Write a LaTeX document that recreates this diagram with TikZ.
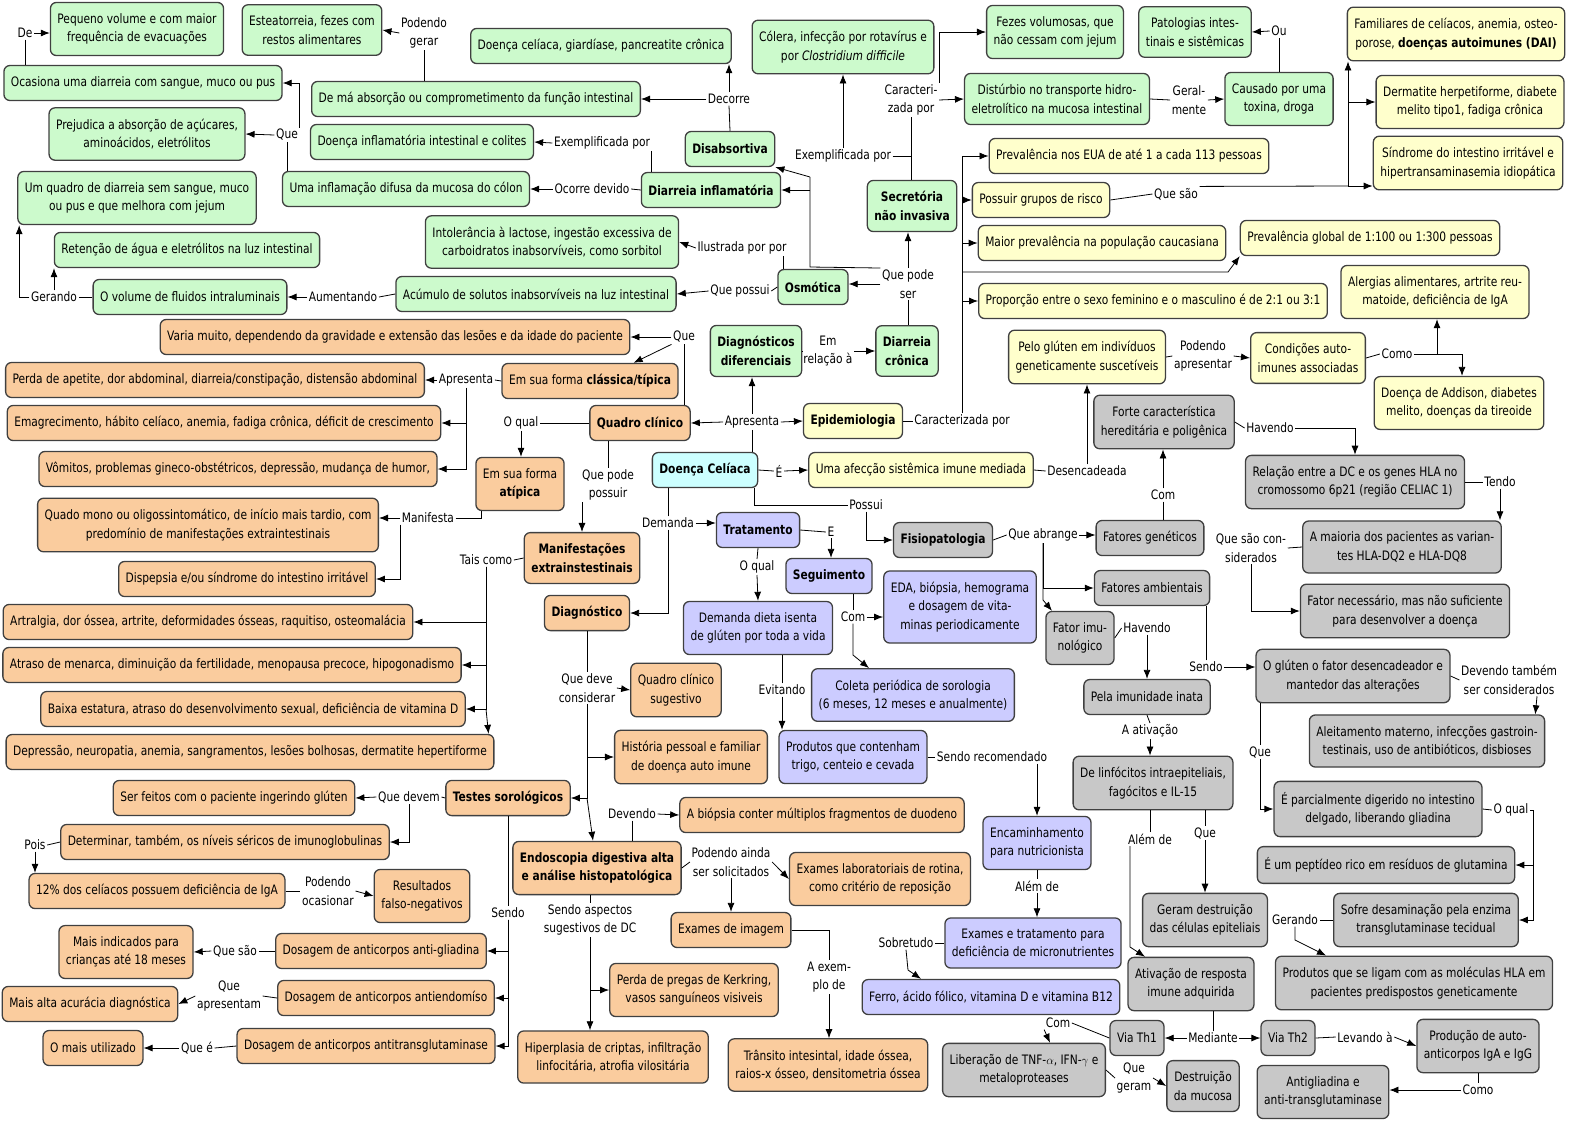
\documentclass[tikz,border=0pt]{standalone}
\usepackage{fontspec}
\setmainfont{DejaVu Sans}[FakeStretch=0.82]
\usepackage{tikz}
\usetikzlibrary{arrows.meta}
\definecolor{verde}{RGB}{204,250,204}
\definecolor{laranja}{RGB}{250,204,158}
\definecolor{amarelo}{RGB}{255,255,204}
\definecolor{cinza}{RGB}{200,200,200}
\definecolor{lilas}{RGB}{204,204,255}
\definecolor{ciano}{RGB}{204,255,255}

\begin{document}
\begin{tikzpicture}[x=1pt,y=-1pt,>={Latex[length=9pt,width=7pt]},
	every node/.style={font=\fontsize{13}{18.5}\selectfont},
	box/.style={draw=black!75,line width=1.3pt,rounded corners=6pt,align=center,inner xsep=7pt,inner ysep=11pt,minimum height=35pt},
	gbox/.style={box,fill=verde},
	obox/.style={box,fill=laranja},
	ybox/.style={box,fill=amarelo},
	rbox/.style={box,fill=cinza},
	pbox/.style={box,fill=lilas},
	cbox/.style={box,fill=ciano},
	lbl/.style={align=center,inner sep=1.5pt}]
				\useasboundingbox (0,0) rectangle (1570,1122);
				\node[gbox] (peq) at (137,29) {Pequeno volume e com maior\\frequência de evacuações};
				\node[gbox] (este) at (312,30) {Esteatorreia, fezes com\\restos alimentares};
				\node[gbox] (ocas) at (143,83) {Ocasiona uma diarreia com sangue, muco ou pus};
				\node[gbox] (dcgp) at (601,46) {Doença celíaca, giardíase, pancreatite crônica};
				\node[gbox] (maabs) at (476,99) {De má absorção ou comprometimento da função intestinal};
				\node[gbox] (prej) at (147,134) {Prejudica a absorção de açúcares,\\aminoácidos, eletrólitos};
				\node[gbox] (dii) at (422,142) {Doença inflamatória intestinal e colites};
				\node[gbox] (umq) at (137,198) {Um quadro de diarreia sem sangue, muco\\ou pus e que melhora com jejum};
				\node[gbox] (infl) at (406,189) {Uma inflamação difusa da mucosa do cólon};
				\node[gbox] (disab) at (730,149) {\textbf{Disabsortiva}};
				\node[gbox] (dinf) at (711,190) {\textbf{Diarreia inflamatória}};
				\node[gbox] (ret) at (187,250) {Retenção de água e eletrólitos na luz intestinal};
				\node[gbox] (intol) at (552,242) {Intolerância à lactose, ingestão excessiva de\\carboidratos inabsorvíveis, como sorbitol};
				\node[gbox] (volf) at (190,297) {O volume de fluidos intraluminais};
				\node[gbox] (acum) at (536,294) {Acúmulo de solutos inabsorvíveis na luz intestinal};
				\node[gbox] (osm) at (813,287) {\textbf{Osmótica}};
				\node[gbox] (cole) at (843,47) {Cólera, infecção por rotavírus e\\por \textit{Clostridium difficile}};
				\node[gbox] (secr) at (912,206) {\textbf{Secretória}\\\textbf{não invasiva}};
				\node[gbox] (dcron) at (907,351) {\textbf{Diarreia}\\\textbf{crônica}};
				\node[gbox] (ddif) at (756,351) {\textbf{Diagnósticos}\\\textbf{diferenciais}};
				\node[gbox] (fezes) at (1055,32) {Fezes volumosas, que\\não cessam com jejum};
				\node[gbox] (pato) at (1195,32) {Patologias intes-\\tinais e sistêmicas};
				\node[gbox] (distu) at (1057,99) {Distúrbio no transporte hidro-\\eletrolítico na mucosa intestinal};
				\node[gbox] (caus) at (1279,99) {Causado por uma\\toxina, droga};

				\node[ybox] (fam) at (1456,34) {Familiares de celíacos, anemia, osteo-\\porose, \textbf{doenças autoimunes (DAI)}};
				\node[ybox] (derm) at (1470,102) {Dermatite herpetiforme, diabete\\melito tipo1, fadiga crônica};
				\node[ybox] (sind) at (1468,163) {Síndrome do intestino irritável e\\hipertransaminasemia idiopática};
				\node[ybox] (prevEUA) at (1129,156) {Prevalência nos EUA de até 1 a cada 113 pessoas};
				\node[ybox] (grupos) at (1041,200) {Possuir grupos de risco};
				\node[ybox] (cauc) at (1102,243) {Maior prevalência na população caucasiana};
				\node[ybox] (prevglob) at (1370,238) {Prevalência global de 1:100 ou 1:300 pessoas};
				\node[ybox] (prop) at (1153,301) {Proporção entre o sexo feminino e o masculino é de 2:1 ou 3:1};
				\node[ybox] (alerg) at (1435,292) {Alergias alimentares, artrite reu-\\matoide, deficiência de IgA};
				\node[ybox] (pelo) at (1087,357) {Pelo glúten em indivíduos\\geneticamente suscetíveis};
				\node[ybox] (condi) at (1308,358) {Condições auto-\\imunes associadas};
				\node[ybox] (addis) at (1459,403) {Doença de Addison, diabetes\\melito, doenças da tireoide};
				\node[ybox] (epid) at (853,421) {\textbf{Epidemiologia}};
				\node[ybox] (afec) at (921,470) {Uma afecção sistêmica imune mediada};
				\node[cbox] (dcel) at (705,470) {\textbf{Doença Celíaca}};

				\node[obox] (varia) at (395,337) {Varia muito, dependendo da gravidade e extensão das lesões e da idade do paciente};
				\node[obox] (perda) at (215,380) {Perda de apetite, dor abdominal, diarreia/constipação, distensão abdominal};
				\node[obox] (classica) at (590,381) {Em sua forma \textbf{clássica/típica}};
				\node[obox] (emag) at (224,423) {Emagrecimento, hábito celíaco, anemia, fadiga crônica, déficit de crescimento};
				\node[obox] (qclin) at (640,423) {\textbf{Quadro clínico}};
				\node[obox] (vomi) at (238,469) {Vômitos, problemas gineco-obstétricos, depressão, mudança de humor,};
				\node[obox] (atip) at (520,484) {Em sua forma\\\textbf{atípica}};
				\node[obox] (mono) at (208,525) {Quado mono ou oligossintomático, de início mais tardio, com\\predomínio de manifestações extraintestinais};
				\node[obox] (disp) at (247,579) {Dispepsia e/ou síndrome do intestino irritável};
				\node[obox] (manif) at (582,558) {\textbf{Manifestações}\\\textbf{extrainstestinais}};
				\node[obox] (artr) at (208,622) {Artralgia, dor óssea, artrite, deformidades ósseas, raquitiso, osteomalácia};
				\node[obox] (diag) at (587,613) {\textbf{Diagnóstico}};
				\node[obox] (atras) at (232,665) {Atraso de menarca, diminuição da fertilidade, menopausa precoce, hipogonadismo};
				\node[obox] (qsug) at (676,690) {Quadro clínico\\sugestivo};
				\node[obox] (baixa) at (253,709) {Baixa estatura, atraso do desenvolvimento sexual, deficiência de vitamina D};
				\node[obox] (depr) at (250,752) {Depressão, neuropatia, anemia, sangramentos, lesões bolhosas, dermatite hepertiforme};
				\node[obox] (hist) at (691,757) {História pessoal e familiar\\de doença auto imune};
				\node[obox] (sorol) at (508,798) {\textbf{Testes sorológicos}};
				\node[obox] (serf) at (234,798) {Ser feitos com o paciente ingerindo glúten};
				\node[obox] (biop) at (822,815) {A biópsia conter múltiplos fragmentos de duodeno};
				\node[obox] (deter) at (225,842) {Determinar, também, os níveis séricos de imunoglobulinas};
				\node[obox] (endo) at (597,868) {\textbf{Endoscopia digestiva alta}\\\textbf{e análise histopatológica}};
				\node[obox] (exlab) at (880,879) {Exames laboratoriais de rotina,\\como critério de reposição};
				\node[obox] (igA) at (157,891) {12\% dos celíacos possuem deficiência de IgA};
				\node[obox] (falso) at (422,896) {Resultados\\falso-negativos};
				\node[obox] (eimg) at (731,930) {Exames de imagem};
				\node[obox] (maisind) at (126,952) {Mais indicados para\\crianças até 18 meses};
				\node[obox] (antigl) at (381,951) {Dosagem de anticorpos anti-gliadina};
				\node[obox] (kerk) at (694,990) {Perda de pregas de Kerkring,\\vasos sanguíneos visiveis};
				\node[obox] (maisalta) at (90,1004) {Mais alta acurácia diagnóstica};
				\node[obox] (antiend) at (386,998) {Dosagem de anticorpos antiendomíso};
				\node[obox] (maisut) at (93,1048) {O mais utilizado};
				\node[obox] (antitg) at (366,1046) {Dosagem de anticorpos antitransglutaminase};
				\node[obox] (hiper) at (613,1057) {Hiperplasia de criptas, infiltração\\linfocitária, atrofia vilositária};
				\node[obox] (trans) at (828,1065) {Trânsito intesintal, idade óssea,\\raios-x ósseo, densitometria óssea};

				\node[pbox] (trat) at (758,530) {\textbf{Tratamento}};
				\node[pbox] (segu) at (829,576) {\textbf{Seguimento}};
				\node[pbox] (dieta) at (758,628) {Demanda dieta isenta\\de glúten por toda a vida};
				\node[pbox] (eda) at (960,607) {EDA, biópsia, hemograma\\e dosagem de vita-\\minas periodicamente};
				\node[pbox] (coleta) at (913,695) {Coleta periódica de sorologia\\(6 meses, 12 meses e anualmente)};
				\node[pbox] (prods) at (853,757) {Produtos que contenham\\trigo, centeio e cevada};
				\node[pbox] (encam) at (1037,843) {Encaminhamento\\para nutricionista};
				\node[pbox] (exmic) at (1033,943) {Exames e tratamento para\\deficiência de micronutrientes};
				\node[pbox] (ferro) at (991,997) {Ferro, ácido fólico, vitamina D e vitamina B12};

				\node[rbox] (fisio) at (943,540) {\textbf{Fisiopatologia}};
				\node[rbox] (forte) at (1164,422) {Forte característica\\hereditária e poligênica};
				\node[rbox] (relac) at (1355,482) {Relação entre a DC e os genes HLA no\\cromossomo 6p21 (região CELIAC 1)};
				\node[rbox] (fgen) at (1150,538) {Fatores genéticos};
				\node[rbox] (maior) at (1402,547) {A maioria dos pacientes as varian-\\tes HLA-DQ2 e HLA-DQ8};
				\node[rbox] (famb) at (1152,588) {Fatores ambientais};
				\node[rbox] (fnec) at (1405,611) {Fator necessário, mas não suficiente\\para desenvolver a doença};
				\node[rbox] (fimu) at (1080,638) {Fator imu-\\nológico};
				\node[rbox] (inata) at (1147,697) {Pela imunidade inata};
				\node[rbox] (glut) at (1353,676) {O glúten o fator desencadeador e\\mantedor das alterações};
				\node[rbox] (aleit) at (1427,741) {Aleitamento materno, infecções gastroin-\\testinais, uso de antibióticos, disbioses};
				\node[rbox] (linf) at (1153,783) {De linfócitos intraepiteliais,\\fagócitos e IL-15};
				\node[rbox] (parc) at (1378,809) {É parcialmente digerido no intestino\\delgado, liberando gliadina};
				\node[rbox] (pept) at (1386,865) {É um peptídeo rico em resíduos de glutamina};
				\node[rbox] (gerd) at (1205,920) {Geram destruição\\das células epiteliais};
				\node[rbox] (sofre) at (1426,920) {Sofre desaminação pela enzima\\transglutaminase tecidual};
				\node[rbox] (ativ) at (1191,984) {Ativação de resposta\\imune adquirida};
				\node[rbox] (prodhla) at (1414,983) {Produtos que se ligam com as moléculas HLA em\\pacientes predispostos geneticamente};
				\node[rbox] (th1) at (1137,1038) {Via Th1};
				\node[rbox] (th2) at (1288,1038) {Via Th2};
				\node[rbox] (auto) at (1478,1046) {Produção de auto-\\anticorpos IgA e IgG};
				\node[rbox] (liber) at (1024,1070) {Liberação de TNF-$\alpha$, IFN-$\gamma$ e\\metaloproteases};
				\node[rbox] (destr) at (1203,1086) {Destruição\\da mucosa};
				\node[rbox] (antig) at (1323,1092) {Antigliadina e\\anti-transglutaminase};

				\node[lbl] (lCar) at (911,100) {Caracteri-\\zada por};
				\node[lbl] (lExe) at (843,156) {Exemplificada por};
				\node[lbl] (lQps) at (908,284) {Que pode\\ser};
				\node[lbl] (lQpo) at (740,291) {Que possui};
				\node[lbl] (lIlu) at (742,248) {Ilustrada por por};
				\node[lbl] (lAum) at (343,297) {Aumentando};
				\node[lbl] (lGer) at (54,297) {Gerando};
				\node[lbl] (lOco) at (592,189) {Ocorre devido};
				\node[lbl] (lExi) at (602,143) {Exemplificada por};
				\node[lbl] (lQue1) at (287,135) {Que};
				\node[lbl] (lDe) at (25,33) {De};
				\node[lbl] (lDec) at (729,99) {Decorre};
				\node[lbl] (lPge) at (424,33) {Podendo\\gerar};
				\node[lbl] (lGm) at (1189,100) {Geral-\\mente};
				\node[lbl] (lOu) at (1279,31) {Ou};
				\node[lbl] (lE) at (779,471) {É};
				\node[lbl] (lDes) at (1087,471) {Desencadeada};
				\node[lbl] (lPap) at (1203,356) {Podendo\\apresentar};
				\node[lbl] (lComo1) at (1397,354) {Como};
				\node[lbl] (lApr) at (752,422) {Apresenta};
				\node[lbl] (lRel) at (828,351) {Em\\relação à};
				\node[lbl] (lCpor) at (962,421) {Caracterizada por};
				\node[lbl] (lQsao) at (1176,194) {Que são};
				\node[lbl] (lOq1) at (521,423) {O qual};
				\node[lbl] (lQpp) at (608,485) {Que pode\\possuir};
				\node[lbl] (lQue2) at (684,337) {Que};
				\node[lbl] (lApr2) at (466,380) {Apresenta};
				\node[lbl] (lMan) at (428,518) {Manifesta};
				\node[lbl] (lTais) at (486,560) {Tais como};
				\node[lbl] (lDem) at (668,523) {Demanda};
				\node[lbl] (lPos) at (866,505) {Possui};
				\node[lbl] (lOq2) at (757,567) {O qual};
				\node[lbl] (lEE) at (831,532) {E};
				\node[lbl] (lCom1) at (853,617) {Com};
				\node[lbl] (lEvi) at (782,690) {Evitando};
				\node[lbl] (lSrec) at (992,757) {Sendo recomendado};
				\node[lbl] (lAlem1) at (1037,886) {Além de};
				\node[lbl] (lSob) at (906,943) {Sobretudo};
				\node[lbl] (lQab) at (1043,535) {Que abrange};
				\node[lbl] (lCom2) at (1163,495) {Com};
				\node[lbl] (lHav1) at (1270,428) {Havendo};
				\node[lbl] (lTen) at (1500,482) {Tendo};
				\node[lbl] (lQsc) at (1251,548) {Que são con-\\siderados};
				\node[lbl] (lSen1) at (1206,667) {Sendo};
				\node[lbl] (lDev) at (1509,680) {Devendo também\\ser considerados};
				\node[lbl] (lQue3) at (1260,752) {Que};
				\node[lbl] (lOq3) at (1511,810) {O qual};
				\node[lbl] (lGer2) at (1295,920) {Gerando};
				\node[lbl] (lHav2) at (1147,628) {Havendo};
				\node[lbl] (lAtiv) at (1150,731) {A ativação};
				\node[lbl] (lAlem2) at (1150,839) {Além de};
				\node[lbl] (lQue4) at (1205,833) {Que};
				\node[lbl] (lMed) at (1213,1038) {Mediante};
				\node[lbl] (lLev) at (1365,1037) {Levando à};
				\node[lbl] (lComo2) at (1478,1090) {Como};
				\node[lbl] (lCom3) at (1058,1023) {Com};
				\node[lbl] (lQg) at (1134,1078) {Que\\geram};
				\node[lbl] (lQdc) at (587,688) {Que deve\\considerar};
				\node[lbl] (lQdv) at (409,797) {Que devem};
				\node[lbl] (lPois) at (35,845) {Pois};
				\node[lbl] (lPoc) at (328,891) {Podendo\\ocasionar};
				\node[lbl] (lSen2) at (508,913) {Sendo};
				\node[lbl] (lQsa) at (235,951) {Que são};
				\node[lbl] (lQap) at (229,996) {Que\\apresentam};
				\node[lbl] (lQe) at (197,1048) {Que é};
				\node[lbl] (lDevd) at (632,814) {Devendo};
				\node[lbl] (lPai) at (731,862) {Podendo ainda\\ser solicitados};
				\node[lbl] (lSasp) at (590,920) {Sendo aspectos\\sugestivos de DC};
				\node[lbl] (lAex) at (829,977) {A exem-\\plo de};

				\coordinate (kq) at (810,267);
				\coordinate (kq2) at (810,177);
				\coordinate (kc1) at (1437,354);
				\coordinate (kc2) at (1462,354);
				\coordinate (ke) at (962,156);
				\coordinate (kg) at (1228,272);
				\coordinate (ks) at (1348,186);
				\coordinate (kcm) at (853,655);
				\coordinate (ksb) at (908,970);
				\coordinate (kab) at (1043,600);
				\coordinate (ko) at (1533,810);
				\coordinate (kgr) at (1295,940);
				\coordinate (kal) at (1130,947);

				\draw[black,thick] (lCar.south |- secr.north) -- (lCar.south);
				\draw[black,thick,->] (lCar.east) -- (distu.west);
				\draw[black,thick,->] (lCar.north east) |- (fezes.west);
				\draw[black,thick] (lExe.east) -- (lExe.east -| lCar.south);
				\draw[black,thick,->] (lExe.north) -- (cole.south);
				\draw[black,thick] (lQps.south) -- (lQps.south |- dcron.north);
				\draw[black,thick,->] (lQps.north) -- (lQps.north |- secr.south);
				\draw[black,thick,->] (lQps.west) -- (lQps.west -| osm.east);
				\draw[black,thick] (lQps.north west) -- (kq) -- (kq2);
				\draw[black,thick,->] (kq2 |- dinf.east) -- (dinf.east);
				\draw[black,thick,->] (kq2) -- (disab.south east);
				\draw[black,thick] (osm.west) -- (lQpo.east);
				\draw[black,thick,->] (lQpo.west) -- (acum.east);
				\draw[black,thick] (lIlu.south -| osm.north west) ++(6,0) -- ([xshift=6pt]osm.north west);
				\draw[black,thick,->] (lIlu.west) -- (intol.east);
				\draw[black,thick] (acum.west) -- (lAum.east);
				\draw[black,thick,->] (lAum.west) -- (volf.east);
				\draw[black,thick] (volf.west) -- (lGer.east);
				\draw[black,thick,->] (lGer.north) -- (lGer.north |- ret.south);
				\draw[black,thick,->] (lGer.west) -| ([xshift=2pt]umq.south west);
				\draw[black,thick] (dinf.west) -- (lOco.east);
				\draw[black,thick,->] (lOco.west) -- (infl.east);
				\draw[black,thick] (lExi.south east) -- (lExi.south east |- dinf.north);
				\draw[black,thick,->] (lExi.west) -- (dii.east);
				\draw[black,thick] (lQue1.south) -- (lQue1.south |- infl.north);
				\draw[black,thick,->] (lQue1.west) -- (prej.east);
				\draw[black,thick,->] (lQue1.north east) |- (ocas.east);
				\draw[black,thick] (lDe.south) -- (lDe.south |- ocas.north);
				\draw[black,thick,->] (lDe.east) -- (lDe.east -| peq.west);
				\draw[black,thick] (disab.north) -- (lDec.south);
				\draw[black,thick,->] (lDec.north) -- (lDec.north |- dcgp.south);
				\draw[black,thick,->] (lDec.west) -- (maabs.east);
				\draw[black,thick] (lPge.south) -- (lPge.south |- maabs.north);
				\draw[black,thick,->] (lPge.west) -- (este.east);
				\draw[black,thick] (distu.east) -- (lGm.west);
				\draw[black,thick,->] (lGm.east) -- (caus.west);
				\draw[black,thick] (caus.north) -- (lOu.south);
				\draw[black,thick,->] (lOu.west) -- (pato.east);

				\draw[black,thick] (dcel.east) -- (lE.west);
				\draw[black,thick,->] (lE.east) -- (afec.west);
				\draw[black,thick] (afec.east) -- (lDes.west);
				\draw[black,thick,->] (lDes.north) -- (lDes.north |- pelo.south);
				\draw[black,thick] (pelo.east) -- (lPap.west);
				\draw[black,thick,->] (lPap.east) -- (condi.west);
				\draw[black,thick] (condi.east) -- (lComo1.west);
				\draw[black,thick] (lComo1.east) -- (kc2);
				\draw[black,thick,->] (kc1) -- (kc1 |- alerg.south);
				\draw[black,thick,->] (kc2) -- (kc2 |- addis.north);
				\draw[black,thick] (lApr.south) -- (lApr.south |- dcel.north);
				\draw[black,thick,->] (lApr.north) -- (lApr.north |- ddif.south);
				\draw[black,thick,->] (lApr.west) -- (qclin.east);
				\draw[black,thick,->] (lApr.east) -- (epid.west);
				\draw[black,thick] (ddif.east) -- (lRel.west);
				\draw[black,thick,->] (lRel.east) -- (dcron.west);
				\draw[black,thick] (epid.east) -- (lCpor.west);
				\draw[black,thick] (lCpor.north) -- (ke);
				\draw[black,thick,->] (ke) -- (prevEUA.west);
				\draw[black,thick,->] (ke |- grupos.west) -- (grupos.west);
				\draw[black,thick,->] (ke |- cauc.west) -- (cauc.west);
				\draw[black,thick,->] (ke |- prop.west) -- (prop.west);
				\draw[black,thick,->] (ke |- kg) -- (kg) -- (prevglob.south west);
				\draw[black,thick] (grupos.east) -- (lQsao.west);
				\draw[black,thick] (lQsao.north east) -- (ks);
				\draw[black,thick,->] (ks) -- (ks -| sind.west);
				\draw[black,thick,->] (ks) -- (ks |- fam.south);
				\draw[black,thick,->] (ks |- derm.west) -- (derm.west);

				\draw[black,thick] (qclin.west) -- (lOq1.east);
				\draw[black,thick,->] (lOq1.south) -- (lOq1.south |- atip.north);
				\draw[black,thick] (lQpp.north) -- (lQpp.north |- qclin.south);
				\draw[black,thick,->] (lQpp.south -| manif.north) -- (manif.north);
				\draw[black,thick] (lQue2.south) -- (lQue2.south |- qclin.north);
				\draw[black,thick,->] (lQue2.west) -- (varia.east);
				\draw[black,thick,->] (lQue2.south west) -- ([xshift=-45pt]classica.north east);
				\draw[black,thick] (classica.west) -- (lApr2.east);
				\draw[black,thick,->] (lApr2.west) -- (perda.east);
				\draw[black,thick,->] (lApr2.south) |- (emag.east);
				\draw[black,thick,->] (lApr2.south) |- (vomi.east);
				\draw[black,thick] (lMan.east) -| ([xshift=6pt]atip.south west);
				\draw[black,thick,->] (lMan.west) -- (lMan.west -| mono.east);
				\draw[black,thick,->] (lMan.south west) |- (disp.east);
				\draw[black,thick] (manif.west) -- (lTais.east);
				\draw[black,thick,->] (lTais.south) |- (artr.east);
				\draw[black,thick,->] (lTais.south) |- (atras.east);
				\draw[black,thick,->] (lTais.south) |- (baixa.east);
				\draw[black,thick,->] (lTais.south |- baixa.east) -- ([xshift=-6pt]depr.north east);
				\draw[black,thick] (lDem.north) -- (lDem.north |- dcel.south);
				\draw[black,thick,->] (lDem.south) |- (diag.east);
				\draw[black,thick,->] (lDem.east) -- (lDem.east -| trat.west);
				\draw[black,thick] (lPos.west) -| ([xshift=-4pt]dcel.south east);
				\draw[black,thick,->] (lPos.south) |- (fisio.west);

				\draw[black,thick] (trat.south) -- (lOq2.north);
				\draw[black,thick,->] (lOq2.south) -- (dieta.north);
				\draw[black,thick] (trat.east) -- (lEE.west);
				\draw[black,thick,->] (lEE.south) -- (lEE.south |- segu.north);
				\draw[black,thick] (lCom1.north) -- (lCom1.north |- segu.south);
				\draw[black,thick,->] (lCom1.east) -- (lCom1.east -| eda.west);
				\draw[black,thick,->] (lCom1.south) -- (kcm) -- ([xshift=-44pt]coleta.north);
				\draw[black,thick] (lEvi.north) -- (lEvi.north |- dieta.south);
				\draw[black,thick,->] (lEvi.south) -- (lEvi.south |- prods.north);
				\draw[black,thick] (prods.east) -- (lSrec.west);
				\draw[black,thick,->] (lSrec.south -| encam.north) -- (encam.north);
				\draw[black,thick] (encam.south) -- (lAlem1.north);
				\draw[black,thick,->] (lAlem1.south) -- (lAlem1.south |- exmic.north);
				\draw[black,thick] (exmic.west) -- (lSob.east);
				\draw[black,thick,->] (lSob.south) -- (ksb) -- ([xshift=-70pt]ferro.north);

				\draw[black,thick] (fisio.east) -- (lQab.west);
				\draw[black,thick,->] (lQab.east) -- (lQab.east -| fgen.west);
				\draw[black,thick,->] (lQab.south) |- (famb.west);
				\draw[black,thick,->] (lQab.south) -- (kab) -- ([xshift=-28pt]fimu.north);
				\draw[black,thick] (lCom2.south) -- (lCom2.south |- fgen.north);
				\draw[black,thick,->] (lCom2.north) -- (lCom2.north |- forte.south);
				\draw[black,thick] (forte.east) -- (lHav1.west);
				\draw[black,thick,->] (lHav1.east) -| (relac.north);
				\draw[black,thick] (relac.east) -- (lTen.west);
				\draw[black,thick,->] (lTen.south) -- (lTen.south |- maior.north);
				\draw[black,thick] (maior.west) -- (lQsc.east);
				\draw[black,thick,->] (lQsc.south) |- (fnec.west);
				\draw[black,thick] (lSen1.north) -- (lSen1.north |- famb.south);
				\draw[black,thick,->] (lSen1.east) -- (lSen1.east -| glut.west);
				\draw[black,thick] (glut.east) -- (lDev.west);
				\draw[black,thick,->] ([xshift=28pt]lDev.south) -- ([xshift=-10pt]aleit.north east);
				\draw[black,thick] (lQue3.north) -- (lQue3.north |- glut.south);
				\draw[black,thick,->] (lQue3.south) |- (parc.west);
				\draw[black,thick] (parc.east) -- (lOq3.west);
				\draw[black,thick] (lOq3.east) -- (ko);
				\draw[black,thick,->] (ko) |- (pept.east);
				\draw[black,thick,->] (ko) |- (sofre.east);
				\draw[black,thick] (sofre.west) -- (lGer2.east);
				\draw[black,thick,->] (lGer2.south) -- (kgr) -- ([xshift=-88pt]prodhla.north);
				\draw[black,thick] (fimu.east) -- (lHav2.west);
				\draw[black,thick,->] (lHav2.south) -- (lHav2.south |- inata.north);
				\draw[black,thick] (inata.south) -- (lAtiv.north);
				\draw[black,thick,->] (lAtiv.south) -- (lAtiv.south |- linf.north);
				\draw[black,thick] (lAlem2.north) -- (lAlem2.north |- linf.south);
				\draw[black,thick,->] (kal |- lAlem2.south) -- (kal) -- ([xshift=-46pt]ativ.north);
				\draw[black,thick] (lQue4.north) -- (lQue4.north |- linf.south);
				\draw[black,thick,->] (lQue4.south) -- (lQue4.south |- gerd.north);
				\draw[black,thick] (lMed.north) -- (lMed.north |- ativ.south);
				\draw[black,thick,->] (lMed.west) -- (th1.east);
				\draw[black,thick,->] (lMed.east) -- (th2.west);
				\draw[black,thick] (th2.east) -- (lLev.west);
				\draw[black,thick,->] (lLev.east) -- (auto.west);
				\draw[black,thick] (auto.south) -- (lComo2.north);
				\draw[black,thick,->] (lComo2.west) -- (lComo2.west -| antig.east);
				\draw[black,thick] (th1.west) -- (lCom3.east);
				\draw[black,thick,->] (lCom3.south west) -- ([xshift=26pt]liber.north);
				\draw[black,thick] (liber.east) -- (lQg.west);
				\draw[black,thick,->] (lQg.east) -- (destr.west);

				\draw[black,thick] (diag.south) -- (lQdc.north);
				\draw[black,thick,->] (lQdc.east) -- (qsug.west);
				\draw[black,thick,->] (lQdc.south) |- (hist.west);
				\draw[black,thick,->] (lQdc.south) |- (sorol.east);
				\draw[black,thick,->] (lQdc.south |- sorol.east) -- ([xshift=-4pt]endo.north);
				\draw[black,thick] (sorol.west) -- (lQdv.east);
				\draw[black,thick,->] (lQdv.west) -- (serf.east);
				\draw[black,thick,->] (lQdv.south) |- (deter.east);
				\draw[black,thick] (deter.west) -- (lPois.east);
				\draw[black,thick,->] (lPois.south) -- (lPois.south |- igA.north);
				\draw[black,thick] (igA.east) -- (lPoc.west);
				\draw[black,thick,->] (lPoc.east) -- (falso.west);
				\draw[black,thick] (sorol.south) -- (lSen2.north);
				\draw[black,thick,->] (lSen2.south) |- (antigl.east);
				\draw[black,thick,->] (lSen2.south) |- (antiend.east);
				\draw[black,thick,->] (lSen2.south) |- (antitg.east);
				\draw[black,thick] (antigl.west) -- (lQsa.east);
				\draw[black,thick,->] (lQsa.west) -- (maisind.east);
				\draw[black,thick] (antiend.west) -- (lQap.east);
				\draw[black,thick,->] (lQap.west) -- (maisalta.east);
				\draw[black,thick] (antitg.west) -- (lQe.east);
				\draw[black,thick,->] (lQe.west) -- (maisut.east);
				\draw[black,thick] (lDevd.south) -- (lDevd.south |- endo.north);
				\draw[black,thick,->] (lDevd.east) -- (biop.west);
				\draw[black,thick] (endo.east) -- (lPai.west);
				\draw[black,thick,->] (lPai.east) -- (exlab.west);
				\draw[black,thick,->] (lPai.south) -- (lPai.south |- eimg.north);
				\draw[black,thick] (lSasp.north) -- (lSasp.north |- endo.south);
				\draw[black,thick,->] (lSasp.south) |- (kerk.west);
				\draw[black,thick,->] (lSasp.south) -- (lSasp.south |- hiper.north);
				\draw[black,thick] (eimg.east) -| (lAex.north);
				\draw[black,thick,->] (lAex.south) -- (lAex.south |- trans.north);
			\end{tikzpicture}
\end{document}
